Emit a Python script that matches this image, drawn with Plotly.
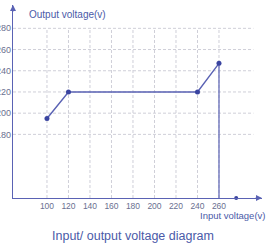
import plotly.graph_objects as go

# data
input_v = [100, 120, 240, 260]
output_v = [195, 220, 220, 247]
cutoff_x = [260, 260]
cutoff_y = [247, 120]
off_point_x = [276]
off_point_y = [120]
x_ticks = [100, 120, 140, 160, 180, 200, 220, 240, 260]
y_ticks = [180, 200, 220, 240, 260, 280]

X_MIN, X_MAX = 68.4, 300
Y_MIN, Y_MAX = 120, 302
GRID_X_END = 292
GRID_Y_END = 280

LINE_C = "#5a62b4"
TEXT_C = "#4a5aa8"
TICK_C = "#6a6f90"
GRID_C = "#cfcfd8"
FONT = "Liberation Sans, Arial, sans-serif"

fig = go.Figure()

fig.add_trace(go.Scatter(x=cutoff_x, y=cutoff_y, mode="lines",
                         line=dict(color=LINE_C, width=1.2), cliponaxis=False,
                         hoverinfo="skip", showlegend=False))
fig.add_trace(go.Scatter(x=input_v, y=output_v, mode="lines+markers",
                         line=dict(color=LINE_C, width=1.4),
                         marker=dict(color="#3a44a0", size=5),
                         cliponaxis=False, showlegend=False))
fig.add_trace(go.Scatter(x=off_point_x, y=off_point_y, mode="markers",
                         marker=dict(color="#3a44a0", size=4),
                         cliponaxis=False, showlegend=False))

shapes = []
for yv in y_ticks:
    shapes.append(dict(type="line", xref="x", yref="y", x0=X_MIN, x1=GRID_X_END, y0=yv, y1=yv,
                       line=dict(color=GRID_C, width=1, dash="3px,2px"), layer="below"))
for xv in x_ticks:
    shapes.append(dict(type="line", xref="x", yref="y", x0=xv, x1=xv, y0=Y_MIN, y1=GRID_Y_END,
                       line=dict(color=GRID_C, width=1, dash="3px,2px"), layer="below"))

fig.update_layout(
    width=268, height=247,
    margin=dict(l=13, r=6, t=5, b=49, autoexpand=False),
    paper_bgcolor="white", plot_bgcolor="white",
    showlegend=False,
    shapes=shapes,
    xaxis=dict(range=[X_MIN, X_MAX], tickvals=x_ticks, ticktext=[str(v) for v in x_ticks],
               automargin=False,
               showgrid=False, zeroline=False, showline=True, linecolor=LINE_C, linewidth=1.3,
               ticks="", ticklen=0, tickfont=dict(family=FONT, size=8.5, color=TICK_C)),
    yaxis=dict(range=[Y_MIN, Y_MAX], tickvals=y_ticks, ticktext=[str(v) for v in y_ticks],
               automargin=False,
               showgrid=False, zeroline=False, showline=True, linecolor=LINE_C, linewidth=1.3,
               ticks="", ticklen=0, ticklabelstandoff=-1,
               tickfont=dict(family=FONT, size=9, color=TICK_C)),
    annotations=[
        dict(text="Output voltage(v)", xref="paper", yref="paper", x=0.058, y=1.0,
             xanchor="left", yanchor="top", yshift=-2, showarrow=False,
             font=dict(family=FONT, size=10, color=TEXT_C)),
        dict(text="Input voltage(v)", xref="paper", yref="paper", x=1.0, y=0,
             xanchor="right", yanchor="top", xshift=5, yshift=-10, showarrow=False,
             font=dict(family=FONT, size=9.5, color=TEXT_C)),
        dict(text="Input/ output voltage diagram", xref="paper", yref="paper", x=0.48, y=0,
             xanchor="center", yanchor="top", yshift=-29, showarrow=False,
             font=dict(family=FONT, size=12.5, color=TEXT_C)),
        dict(x=1.0, y=0, xref="paper", yref="paper", ax=-8, ay=0, text="",
             showarrow=True, arrowhead=2, arrowsize=1, arrowwidth=1.2, arrowcolor=LINE_C),
        dict(x=0, y=1.0, xref="paper", yref="paper", ax=0, ay=8, text="",
             showarrow=True, arrowhead=2, arrowsize=1, arrowwidth=1.2, arrowcolor=LINE_C),
    ],
)

fig.write_html(
    "out.html",
    config={"displayModeBar": False},
    post_script="document.body.style.margin='0';document.body.style.overflow='hidden';",
)
